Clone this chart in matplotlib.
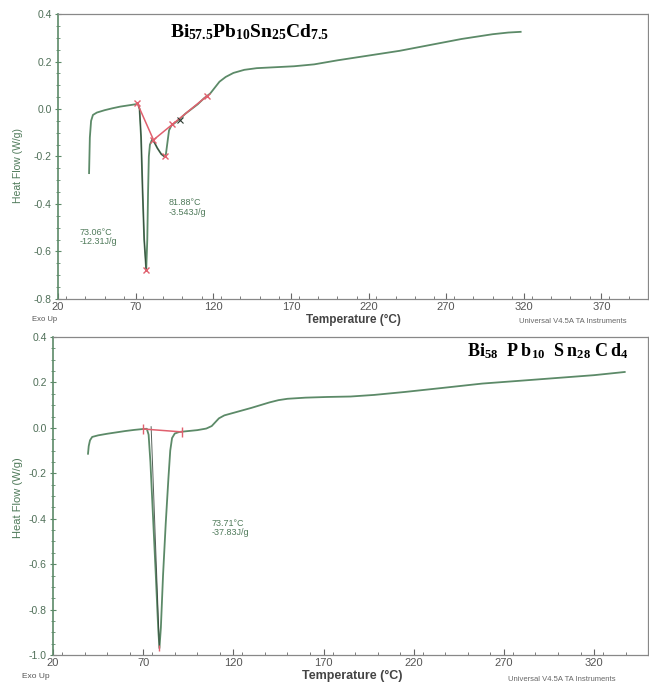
import numpy as np
import matplotlib
matplotlib.use("Agg")
import matplotlib.pyplot as plt
from matplotlib.ticker import MultipleLocator, AutoMinorLocator, FixedLocator

plt.rcParams.update({
    "font.family": "Liberation Sans",
    "mathtext.fontset": "custom",
    "mathtext.rm": "Liberation Serif",
    "mathtext.bf": "Liberation Serif:bold",
})

GREEN = "#5c8a68"
RED = "#e0606e"
DARK = "#2c3a30"
GRAY = "#555555"

# --- top sample: Bi57.5Pb10Sn25Cd7.5 ---
top_T = [40.0, 40.5, 41.3, 42.5, 45, 50, 55, 60, 65, 70, 71.5, 72.5, 73.5, 74.5,
         75.5, 76.8, 77.5, 78, 78.5, 79.2, 80.5, 82, 84, 86.5, 88.5, 89.5, 90.5,
         91.5, 93, 95, 98, 102, 106, 110, 114, 118, 121, 124, 128, 133, 140, 148,
         160, 172, 185, 200, 220, 240, 260, 280, 300, 310, 318]
top_HF = [-0.27, -0.12, -0.05, -0.025, -0.015, -0.005, 0.003, 0.01, 0.015, 0.02,
          0.022, 0.0, -0.12, -0.35, -0.55, -0.68, -0.55, -0.35, -0.2, -0.15, -0.13,
          -0.14, -0.165, -0.19, -0.2, -0.19, -0.14, -0.09, -0.07, -0.06, -0.045,
          -0.02, 0.0, 0.02, 0.045, 0.065, 0.09, 0.115, 0.135, 0.152, 0.165, 0.172,
          0.176, 0.18, 0.188, 0.205, 0.225, 0.245, 0.27, 0.295, 0.315, 0.322, 0.325]
top_base_T = [71, 81.5, 116]
top_base_HF = [0.025, -0.13, 0.055]
top_marks_T = [71, 81.5, 76.8, 88.8, 93.5, 116]
top_marks_HF = [0.025, -0.13, -0.68, -0.2, -0.065, 0.055]
top_notes = [(34, -0.50, "73.06°C\n-12.31J/g"), (91, -0.375, "81.88°C\n-3.543J/g")]
top_xticks = [20, 70, 120, 170, 220, 270, 320, 370]

# --- bottom sample: Bi58Pb10Sn28Cd4 ---
bot_T = [39.4, 39.8, 40.5, 41.7, 45, 50, 55, 60, 65, 70, 72, 73, 74, 75.5, 77,
         78.3, 79, 79.8, 81, 82.5, 84, 85, 86, 87.5, 90, 95, 100, 105, 108, 110,
         112, 115, 120, 125, 130, 135, 140, 145, 150, 160, 172, 185, 198, 215, 235,
         258, 280, 300, 320, 337]
bot_HF = [-0.114, -0.08, -0.055, -0.04, -0.033, -0.026, -0.02, -0.014, -0.009,
          -0.005, -0.004, -0.03, -0.15, -0.4, -0.65, -0.88, -0.97, -0.88, -0.65,
          -0.42, -0.22, -0.1, -0.045, -0.025, -0.018, -0.014, -0.01, -0.003, 0.008,
          0.025, 0.042, 0.055, 0.066, 0.077, 0.088, 0.1, 0.112, 0.122, 0.128, 0.133,
          0.136, 0.138, 0.145, 0.158, 0.175, 0.195, 0.208, 0.22, 0.232, 0.246]
bot_base_T = [70, 91.7]
bot_base_HF = [-0.005, -0.018]
bot_notes = [(108, -0.40, "73.71°C\n-37.83J/g")]
bot_xticks = [20, 70, 120, 170, 220, 270, 320]


def style_axes(ax, ymin, ymax, xmax, xticks):
    ax.set_xlim(20, xmax)
    ax.set_ylim(ymin, ymax)
    ax.xaxis.set_major_locator(FixedLocator(xticks))
    ax.xaxis.set_minor_locator(MultipleLocator(12.5))
    ax.yaxis.set_major_locator(MultipleLocator(0.2))
    ax.yaxis.set_minor_locator(AutoMinorLocator(4))
    ax.yaxis.set_major_formatter(plt.FuncFormatter(lambda v, p: f"{v:.1f}"))
    ax.tick_params(axis="y", which="both", direction="inout", colors=GREEN,
                   labelsize=7.5, labelcolor="#4f6f58", pad=2)
    ax.tick_params(axis="y", which="major", length=5)
    ax.tick_params(axis="y", which="minor", length=3)
    ax.tick_params(axis="x", which="both", direction="in", colors="#666666",
                   labelsize=8, labelcolor=GRAY, pad=2)
    ax.tick_params(axis="x", which="major", length=4)
    ax.tick_params(axis="x", which="minor", length=2)
    ax.spines["left"].set_color(GREEN)
    ax.spines["left"].set_linewidth(1.2)
    for s in ("top", "right", "bottom"):
        ax.spines[s].set_color("#888888")
        ax.spines[s].set_linewidth(0.9)


fig = plt.figure(figsize=(6.49, 6.84), dpi=100)

# top panel
ax1 = fig.add_axes([0.0894, 0.5629, 0.909, 0.4166])
ax1.plot(top_T, top_HF, color=GREEN, lw=1.3)
ax1.plot(top_T[10:16], top_HF[10:16], color=DARK, lw=0.7, alpha=0.8)
ax1.plot(top_T[20:25], top_HF[20:25], color=DARK, lw=0.7, alpha=0.8)
ax1.plot(top_base_T, top_base_HF, color=RED, lw=1.1)
ax1.plot(top_marks_T, top_marks_HF, ls="none", marker="x", ms=4, mew=1, color=RED)
ax1.plot([98.5], [-0.045], ls="none", marker="x", ms=4, mew=0.8, color=DARK)
for x, y, s in top_notes:
    ax1.text(x, y, s, fontsize=6.5, color="#4f7a5a", va="top", ha="left", linespacing=1.1)
style_axes(ax1, -0.8, 0.4, 400, top_xticks)
ax1.text(0.19, 0.935, r"$\mathbf{Bi_{57.5}Pb_{10}Sn_{25}Cd_{7.5}}$",
         transform=ax1.transAxes, fontsize=14, color="black", va="center")

# bottom panel
ax2 = fig.add_axes([0.0817, 0.0424, 0.917, 0.4649])
ax2.plot(bot_T, bot_HF, color=GREEN, lw=1.3)
ax2.plot([74.4, 79], [0.005, -0.97], color=DARK, lw=0.7, alpha=0.8)
ax2.plot(bot_base_T, bot_base_HF, color=RED, lw=1.1, marker="|", ms=7, mew=1)
ax2.plot([79], [-0.97], ls="none", marker="|", ms=5, mew=1, color=RED)
for x, y, s in bot_notes:
    ax2.text(x, y, s, fontsize=6.5, color="#4f7a5a", va="top", ha="left", linespacing=1.1)
style_axes(ax2, -1.0, 0.4, 350, bot_xticks)
ax2.text(0.695, 0.955,
         r"$\mathbf{Bi_{58}\;\;P\,b_{10}\;\;S\,n_{28}\;C\,d_{4}}$",
         transform=ax2.transAxes, fontsize=13, color="black", va="center")

# captions placed like the instrument printout
fig.text(0.028, 0.758, "Heat Flow (W/g)", rotation=90, fontsize=7.5, color="#4f7a5a",
         ha="center", va="center")
fig.text(0.028, 0.273, "Heat Flow (W/g)", rotation=90, fontsize=8, color="#4f7a5a",
         ha="center", va="center")
fig.text(0.050, 0.533, "Exo Up", fontsize=5.5, color=GRAY, va="center")
fig.text(0.034, 0.011, "Exo Up", fontsize=6, color=GRAY, va="center")
fig.text(0.545, 0.532, "Temperature (°C)", fontsize=8.5, color="#444444",
         fontweight="bold", ha="center", va="center")
fig.text(0.543, 0.011, "Temperature (°C)", fontsize=9, color="#444444",
         fontweight="bold", ha="center", va="center")
fig.text(0.80, 0.530, "Universal V4.5A TA Instruments", fontsize=5.5, color="#666666",
         va="center")
fig.text(0.783, 0.007, "Universal V4.5A TA Instruments", fontsize=5.5, color="#666666",
         va="center")

fig.savefig("out.png", dpi=100)
